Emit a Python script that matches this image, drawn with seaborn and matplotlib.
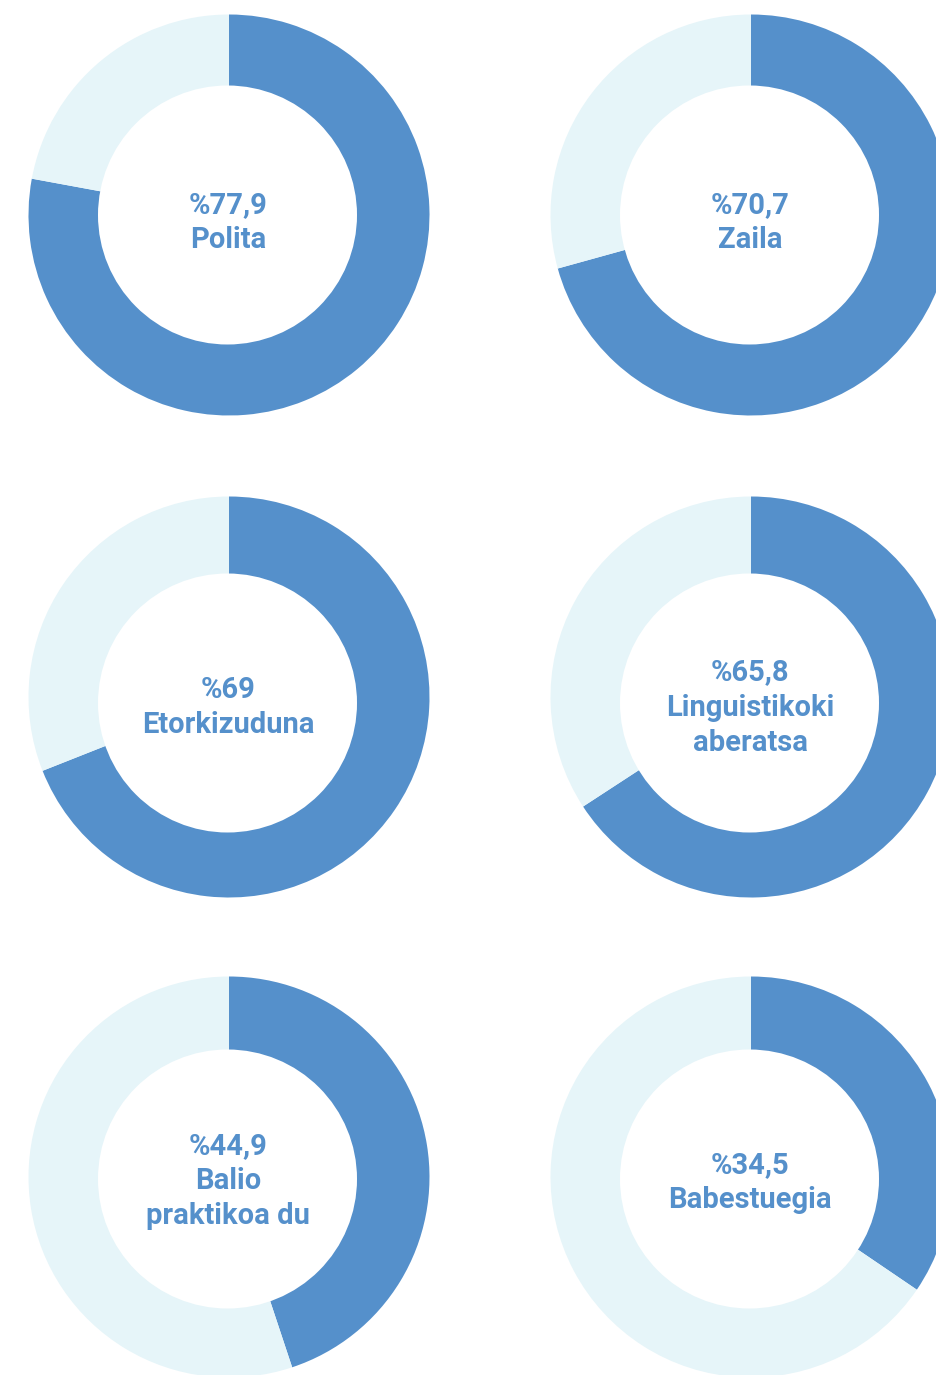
import matplotlib
matplotlib.use("Agg")
import matplotlib.pyplot as plt
from matplotlib.patches import Circle
import seaborn as sns

# ---- data ----
values = [77.9, 70.7, 69.0, 65.8, 44.9, 34.5]
value_labels = ["%77,9", "%70,7", "%69", "%65,8", "%44,9", "%34,5"]
categories = [
    ["Polita"],
    ["Zaila"],
    ["Etorkizuduna"],
    ["Linguistikoki", "aberatsa"],
    ["Balio", "praktikoa du"],
    ["Babestuegia"],
]

# ---- style ----
sns.set_theme(style="white")
plt.rcParams["font.family"] = ["Roboto", "DejaVu Sans"]
BLUE = "#5590cb"
LIGHT = "#e6f5f9"
TEXT = "#5590cb"

W, H = 936, 1375
fig = plt.figure(figsize=(W / 100, H / 100), dpi=100)
ax = fig.add_axes([0, 0, 1, 1])

col_x = [229, 751]
row_y = [215, 697, 1177]
hole_dy = [0, 6, 2]
hole_dx = -1.5
R_OUT = 200.5
R_IN = 129.5
LINE = 35
FS = 21
text_center = [220.5, 705.5, 1179]

for i, (v, vl, cat) in enumerate(zip(values, value_labels, categories)):
    c, r = i % 2, i // 2
    cx = col_x[c]
    cy_pix = row_y[r]
    ax.pie(
        [v, 100 - v],
        colors=[BLUE, LIGHT],
        startangle=90,
        counterclock=False,
        center=(cx, H - cy_pix),
        radius=R_OUT,
        wedgeprops=dict(linewidth=0, edgecolor="none", antialiased=True),
        frame=False,
    )
    ax.add_patch(Circle((cx + hole_dx, H - (cy_pix + hole_dy[r])), R_IN,
                        facecolor="white", edgecolor="none", zorder=3))
    lines = [vl] + cat
    n = len(lines)
    first_center = text_center[r] - (n - 1) * LINE / 2
    if n == 2 and r == 2:
        first_center += 1.5
    for k, txt in enumerate(lines):
        yc = first_center + k * LINE
        ax.text(cx - 1, H - (yc + 10), txt, ha="center", va="baseline",
                fontsize=FS, fontweight="bold", color=TEXT, zorder=4)

ax.set_xlim(0, W)
ax.set_ylim(0, H)
ax.set_aspect("equal")
ax.axis("off")
fig.savefig("out.png", dpi=100, facecolor="white")
